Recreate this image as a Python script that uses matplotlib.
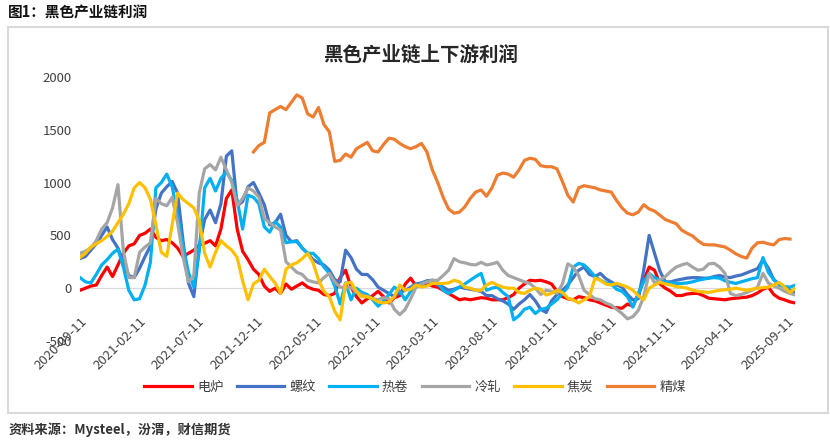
import numpy as np
import pandas as pd
import matplotlib
matplotlib.use("Agg")
from matplotlib import pyplot as plt
from matplotlib.patches import Rectangle

plt.rcParams['font.family'] = ['Noto Sans CJK SC', 'DejaVu Sans']
plt.rcParams['axes.unicode_minus'] = False

# 双周数据 2020-09-11 起
dates = pd.date_range('2020-09-11', periods=133, freq='14D')

dianlu = [-20, 0, 20, 30, 120, 200, 110, 220, 330, 400,
          420, 500, 520, 560, 480, 450, 460, 430, 380, 300,
          330, 360, 410, 425, 450, 400, 560, 850, 930, 560,
          350, 270, 180, 130, 20, -30, 0, -50, 40, -10,
          20, 50, 10, -10, -20, -60, -70, -50, 100, 170,
          10, -80, -140, -100, -70, -30, -80, -140, -90, -70,
          40, 95, 20, 30, 45, 20, 10, -20, -50, -80,
          -110, -100, -110, -100, -90, -95, -110, -110, -110, -90,
          -60, 0, 40, 75, 70, 75, 60, 40, -30, -80,
          -100, -110, -80, -90, -110, -120, -140, -160, -180, -185,
          -190, -150, -170, -60, 75, 200, 170, 40, 0, -30,
          -70, -70, -55, -50, -50, -70, -95, -100, -105, -110,
          -100, -95, -90, -85, -70, -45, -10, 10, -60, -95,
          -110, -130, -140]

luowen = [280, 300, 360, 420, 500, 580, 460, 380, 250, 120,
          100, 190, 300, 400, 750, 900, 960, 1010, 900, 450,
          50, -80, 400, 650, 740, 620, 800, 1250, 1300, 780,
          820, 960, 1000, 900, 790, 600, 620, 700, 500, 440,
          450, 380, 330, 270, 240, 220, 170, 80, 60, 360,
          290, 180, 130, 130, 80, 10, -20, -50, -80, -40,
          -20, 10, 40, 50, 70, 75, 30, 10, -20, -10,
          10, 0, -10, -20, -30, -70, -70, -100, -120, -150,
          -200, -150, -110, -60, -120, -200, -230, -120, -60, -20,
          30, 100, 170, 200, 130, 110, 140, 90, 60, 30,
          10, -60, -110, -100, 170, 500, 330, 160, 60, 60,
          75, 85, 95, 100, 100, 95, 95, 110, 120, 105,
          100, 115, 125, 145, 165, 185, 270, 190, 80, 40,
          10, -20, -40]

rejuan = [100, 60, 50, 130, 220, 270, 330, 370, 200, -20,
          -110, -100, 30, 250, 950, 1000, 1080, 960, 700, 400,
          150, 10, 350, 950, 1040, 920, 1040, 1100, 1020, 830,
          560, 880, 860, 800, 580, 530, 630, 580, 430, 440,
          440, 380, 330, 330, 280, 200, 140, 20, -150, 50,
          -110, 0, -40, -60, -110, -170, -120, -60, 10, -30,
          -110, -30, 10, 40, 60, 75, 50, -20, -50, -20,
          10, 40, 75, 110, 140, -20, 0, 10, -40, -80,
          -300, -260, -200, -180, -240, -200, -190, -150, -110, -50,
          10, 200, 235, 220, 170, 110, 75, 50, 40, -10,
          -30, -80, -180, -50, 60, 140, 100, 80, 55, 50,
          45, 45, 50, 60, 75, 85, 95, 100, 95, 70,
          55, 45, 60, 75, 90, 100, 290, 150, 80, 30,
          15, 10, 30]

lengzha = [330, 350, 380, 450, 560, 620, 760, 980, 350, 100,
           100, 340, 390, 430, 850, 800, 780, 860, 620, 300,
           60, 120, 900, 1130, 1170, 1120, 1240, 1120, 1000, 780,
           850, 950, 920, 860, 660, 620, 580, 550, 250, 200,
           150, 130, 75, 60, 50, 100, 140, 60, 10, 0,
           10, -40, -60, -80, -100, -110, -90, -100, -200, -250,
           -200, -100, 10, 40, 60, 75, 75, 120, 170, 280,
           250, 240, 225, 220, 245, 220, 230, 245, 170, 120,
           100, 80, 60, 45, 0, -60, -20, -30, -50, 40,
           230, 200, 120, -20, -60, -100, -110, -140, -160, -200,
           -240, -290, -270, -210, -80, 140, 50, 80, 110, 160,
           200, 220, 235, 200, 170, 180, 230, 235, 200, 140,
           -50, -70, -60, -40, -20, 10, 140, 50, 20, 0,
           -30, -50, -65]

jiaotan = [290, 330, 390, 420, 450, 490, 540, 620, 700, 800,
           950, 1000, 950, 840, 600, 340, 300, 600, 900, 840,
           800, 760, 640, 330, 200, 340, 450, 400, 360, 290,
           70, -110, 40, 75, 180, 110, 50, -50, 180, 220,
           240, 280, 330, 240, 80, -30, -80, -220, -300, 45,
           55, -30, -80, -80, -100, -130, -140, -130, -80, 30,
           -20, -10, 30, 10, 20, 45, 45, 45, 50, 75,
           60, 10, 0, -20, -20, 30, 55, 30, 10, 0,
           0, -40, -50, -20, 0, -10, -65, -50, -20, -40,
           -95, -110, -140, -110, -80, 95, 75, 40, 30, 45,
           30, 10, -20, -70, -110, 0, 30, 55, 40, 30,
           15, 10, 0, -20, -30, -35, -40, -30, -20, -15,
           -10, 0, -10, -20, -10, 0, 5, 10, 30, 55,
           10, -40, 0]

jingmei = [np.nan] * 32 + [
           1290, 1350, 1380, 1660, 1690, 1720, 1690, 1760,
           1830, 1800, 1650, 1620, 1710, 1550, 1480, 1200, 1210, 1270,
           1240, 1320, 1350, 1380, 1300, 1290, 1360, 1420, 1410, 1370,
           1340, 1320, 1340, 1370, 1290, 1120, 1000, 860, 750, 710,
           720, 770, 850, 910, 930, 870, 950, 1070, 1090, 1080,
           1050, 1120, 1210, 1230, 1220, 1160, 1150, 1150, 1130, 1010,
           880, 815, 950, 970, 960, 950, 930, 920, 910, 830,
           760, 710, 695, 720, 790, 750, 730, 690, 650, 630,
           610, 550, 520, 495, 450, 415, 410, 410, 400, 390,
           360, 325, 300, 285, 380, 430, 435, 420, 410, 460,
           470, 465, np.nan]

names = ['电炉', '螺纹', '热卷', '冷轧', '焦炭', '精煤']
colors = ['#FF0000', '#4472C4', '#00B0F0', '#A5A5A5', '#FFC000', '#ED7D31']
series = [dianlu, luowen, rejuan, lengzha, jiaotan, jingmei]
tick_dates = pd.date_range('2020-09-01', periods=13, freq='5MS') + pd.Timedelta(days=10)

fig = plt.figure(figsize=(8.3, 4.42), dpi=100)
ax = fig.add_axes([0.0964, 0.2285, 0.862, 0.5975])

for name, c, s in zip(names, colors, series):
    ax.plot(dates, s, color=c, lw=2.3, label=name, solid_joinstyle='round')

ax.set_ylim(-500, 2000)
ax.set_yticks([-500, 0, 500, 1000, 1500, 2000])
ax.set_xlim(dates[0], dates[-1])
for sp in ['top', 'right', 'left']:
    ax.spines[sp].set_visible(False)
ax.spines['bottom'].set_position(('data', 0))
ax.spines['bottom'].set_color('#D9D9D9')
ax.spines['bottom'].set_zorder(0)
ax.set_xticks(tick_dates)
ax.set_xticklabels([d.strftime('%Y-%m-%d') for d in tick_dates],
                   rotation=45, ha='right', rotation_mode='anchor',
                   fontsize=9.5, color='#404040')
ax.tick_params(axis='x', length=0, pad=19)
ax.tick_params(axis='y', length=0, pad=6, labelsize=9.5, labelcolor='#404040')

ax.legend(loc='center', bbox_to_anchor=(0.5, 0.124), bbox_transform=fig.transFigure,
          ncol=6, frameon=False, fontsize=9.5, handlelength=3.6, columnspacing=1.0,
          handletextpad=0.4, labelcolor='#404040')

fig.text(0.507, 0.875, '黑色产业链上下游利润', ha='center', va='center',
         fontsize=14, fontweight='bold', color='#262626')
fig.text(0.01, 0.972, '图1：黑色产业链利润', ha='left', va='center',
         fontsize=10.5, fontweight='bold', color='#111111')
fig.text(0.01, 0.027, '资料来源：Mysteel，汾渭，财信期货', ha='left', va='center',
         fontsize=9.5, fontweight='bold', color='#333333', style='italic')
fig.patches.append(Rectangle((0.01, 0.066), 0.987, 0.873, transform=fig.transFigure,
                             fill=False, edgecolor='#D9D9D9', lw=1.5))

fig.savefig('out.png', dpi=100)
